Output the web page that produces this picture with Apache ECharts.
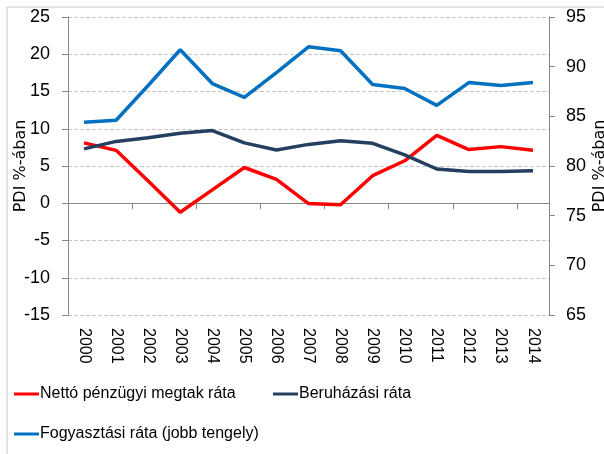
<!DOCTYPE html>
<html>
<head>
<meta charset="utf-8">
<script src="https://cdn.jsdelivr.net/npm/echarts@6/dist/echarts.min.js"></script>
<style>
  html, body { margin: 0; padding: 0; background: #fff; }
  #chart { width: 604px; height: 454px; }
</style>
</head>
<body>
<div id="chart"></div>
<script>
// évek
var years = ['2000','2001','2002','2003','2004','2005','2006','2007','2008','2009','2010','2011','2012','2013','2014'];
// bal tengely
var netto = [8.1, 7.1, 3.0, -1.2, 1.8, 4.8, 3.2, -0.05, -0.2, 3.7, 5.7, 9.1, 7.2, 7.6, 7.1];
var beruhazas = [7.3, 8.3, 8.8, 9.4, 9.75, 8.1, 7.15, 7.9, 8.4, 8.05, 6.5, 4.6, 4.25, 4.25, 4.35];
// jobb tengely
var fogyasztas = [84.4, 84.6, 88.1, 91.7, 88.3, 86.9, 89.4, 92.0, 91.6, 88.2, 87.8, 86.1, 88.4, 88.1, 88.4];

var seriesNames = ['Nettó pénzügyi megtak ráta', 'Beruházási ráta', 'Fogyasztási ráta (jobb tengely)'];

var font = 'DejaVu Sans';
var tickFont = "'Liberation Sans Narrow', 'Liberation Sans'";
var myChart = echarts.init(document.getElementById('chart'));

function legendItem(name, left, top) {
  return {
    data: [name], left: left, top: top, itemWidth: 25, itemHeight: 3,
    icon: 'rect',
    textStyle: { fontFamily: 'Liberation Sans', fontSize: 16, color: '#000', padding: [0, 0, 0, -4] }
  };
}

var option = {
  animation: false,
  textStyle: { fontFamily: font },
  graphic: [
    {
      type: 'rect',
      shape: { x: 7, y: 7, width: 620, height: 470 },
      style: { fill: 'none', stroke: '#c8c8c8', lineWidth: 1 },
      silent: true
    }
  ],
  grid: { left: 68, right: 55, top: 17, bottom: 139, outerBoundsMode: 'none', containLabel: false },
  legend: [
    legendItem(seriesNames[0], 9, 381),
    legendItem(seriesNames[1], 268, 381),
    legendItem(seriesNames[2], 9, 421)
  ],
  xAxis: [
    {
      // tengelyvonal a nullánál
      type: 'category', data: years, boundaryGap: true,
      axisLine: { onZero: true, lineStyle: { color: '#868686', width: 1 } },
      axisTick: { show: true, length: 6, lineStyle: { color: '#868686' } },
      axisLabel: { show: false }
    },
    {
      // feliratok alul
      type: 'category', data: years, boundaryGap: true, position: 'bottom',
      axisLine: { show: false }, axisTick: { show: false },
      axisLabel: { rotate: -90, fontSize: 16, color: '#000', margin: 13, fontFamily: 'Liberation Sans' }
    }
  ],
  yAxis: [
    {
      type: 'value', min: -15, max: 25, interval: 5,
      name: 'PDI %-ában', nameLocation: 'middle', nameGap: 39, nameRotate: 90, nameMoveOverlap: false,
      nameTextStyle: { fontSize: 16, color: '#000', fontFamily: font },
      axisLine: { show: true, lineStyle: { color: '#868686' } },
      axisTick: { show: true, length: 6, lineStyle: { color: '#868686' } },
      axisLabel: { fontSize: 18, color: '#000', margin: 18, fontFamily: tickFont },
      splitLine: { lineStyle: { type: 'dashed', color: '#c8c8c8' } }
    },
    {
      type: 'value', min: 65, max: 95, interval: 5, position: 'right',
      name: 'PDI %-ában', nameLocation: 'middle', nameGap: 43, nameRotate: 90, nameMoveOverlap: false,
      nameTextStyle: { fontSize: 16, color: '#000', fontFamily: font },
      axisLine: { show: true, lineStyle: { color: '#868686' } },
      axisTick: { show: true, length: 6, lineStyle: { color: '#868686' } },
      axisLabel: { fontSize: 18, color: '#000', margin: 17, fontFamily: tickFont },
      splitLine: { show: false }
    }
  ],
  series: [
    {
      name: seriesNames[0], type: 'line', data: netto, xAxisIndex: 0, yAxisIndex: 0,
      symbol: 'none', lineStyle: { width: 3.5, color: '#ff0000' }, itemStyle: { color: '#ff0000' }
    },
    {
      name: seriesNames[1], type: 'line', data: beruhazas, xAxisIndex: 0, yAxisIndex: 0,
      symbol: 'none', lineStyle: { width: 3.5, color: '#243f60' }, itemStyle: { color: '#243f60' }
    },
    {
      name: seriesNames[2], type: 'line', data: fogyasztas, xAxisIndex: 0, yAxisIndex: 1,
      symbol: 'none', lineStyle: { width: 3.5, color: '#0070c0' }, itemStyle: { color: '#0070c0' }
    }
  ]
};

myChart.setOption(option);
</script>
</body>
</html>
